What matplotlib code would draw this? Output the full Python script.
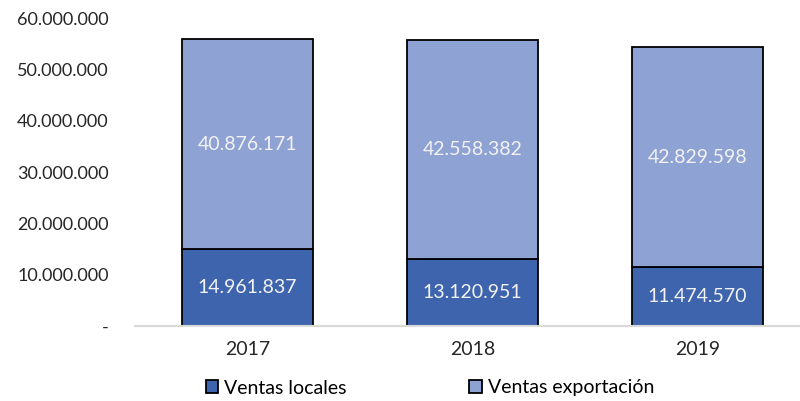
import matplotlib.pyplot as plt
from matplotlib.ticker import FuncFormatter

years = ["2017", "2018", "2019"]
ventas_locales = [14961837, 13120951, 11474570]
ventas_exportacion = [40876171, 42558382, 42829598]

COLOR_LOCAL = "#3D64AD"
COLOR_EXPORT = "#8FA2D4"

plt.rcParams["font.family"] = ["Lato", "DejaVu Sans"]


def fmt_miles(value, _pos=None):
    if value == 0:
        return "-"
    return f"{value:,.0f}".replace(",", ".")


fig = plt.figure(figsize=(8, 4.01), dpi=100)
ax = fig.add_axes([135 / 800, 0.187, 665 / 800, 0.768])

x = range(len(years))
bars_local = ax.bar(x, ventas_locales, width=0.58, color=COLOR_LOCAL,
                    edgecolor="black", linewidth=1.3, label="Ventas locales")
bars_export = ax.bar(x, ventas_exportacion, width=0.58, bottom=ventas_locales,
                     color=COLOR_EXPORT, edgecolor="black", linewidth=1.3,
                     label="Ventas exportación")

for i in x:
    ax.text(i, ventas_locales[i] / 2, fmt_miles(ventas_locales[i]),
            ha="center", va="center", color="#F2F2F2", fontsize=14)
    ax.text(i, ventas_locales[i] + ventas_exportacion[i] / 2,
            fmt_miles(ventas_exportacion[i]),
            ha="center", va="center", color="#F2F2F2", fontsize=14)

ax.set_xlim(-0.5, 2.456)
ax.set_ylim(0, 60000000)
ax.set_yticks(range(0, 60000001, 10000000))
ax.yaxis.set_major_formatter(FuncFormatter(fmt_miles))
ax.set_xticks(list(x))
ax.set_xticklabels(years)
ax.tick_params(axis="both", length=0, labelsize=14, colors="#262626", pad=11)
ax.tick_params(axis="y", labelsize=13, pad=19)

for side in ["top", "right", "left"]:
    ax.spines[side].set_visible(False)
ax.spines["bottom"].set_color("#D9D9D9")
ax.spines["bottom"].set_linewidth(1.5)

fig.legend(handles=[bars_local, bars_export], loc="center",
           bbox_to_anchor=(0.5375, 1 - 388 / 401), ncol=2, frameon=False,
           fontsize=14, handlelength=0.65, handleheight=0.65,
           handletextpad=0.3, columnspacing=6.3, borderaxespad=0)

fig.savefig("out.png", dpi=100)
